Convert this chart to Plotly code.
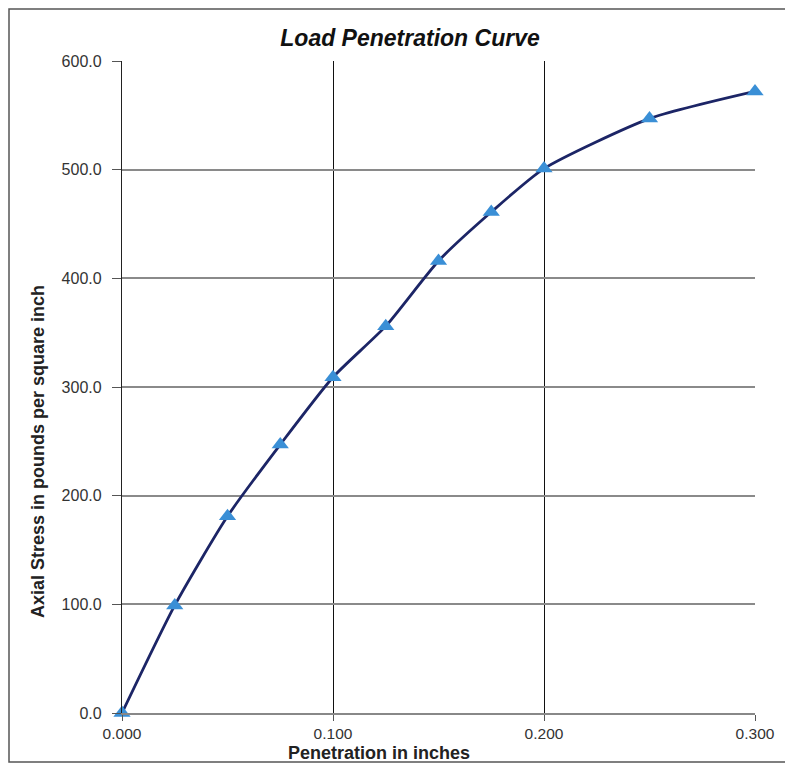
import plotly.graph_objects as go

penetration = [0.000, 0.025, 0.050, 0.075, 0.100, 0.125, 0.150, 0.175, 0.200, 0.250, 0.300]
stress = [0.0, 99.0, 181.0, 247.0, 309.0, 356.0, 416.0, 461.0, 501.0, 547.0, 572.0]

x_ticks = [0.0, 0.1, 0.2, 0.3]
x_tick_labels = ["0.000", "0.100", "0.200", "0.300"]
y_ticks = [0, 100, 200, 300, 400, 500, 600]
y_tick_labels = ["0.0", "100.0", "200.0", "300.0", "400.0", "500.0", "600.0"]

FONT = "Liberation Sans, Arial, sans-serif"

fig = go.Figure()
fig.add_trace(go.Scatter(
    x=penetration, y=stress, mode="lines+markers",
    line=dict(color="#1c2566", width=2.8, shape="spline", smoothing=0.6),
    marker=dict(symbol="triangle-up", size=15, color="#3a8fd6",
                line=dict(width=0)),
    showlegend=False, cliponaxis=False,
))

W, H = 793, 768
OFF = 8  # page body margin offset
L, R, T, B = 122 - OFF, 46, 61 - OFF, 63
pw, ph = W - L - R, H - T - B


def px(xs):
    return (xs - OFF - L) / pw


def py(ys):
    return (H - B - (ys - OFF)) / ph


fig.update_layout(
    width=W, height=H,
    margin=dict(l=L, r=R, t=T, b=B),
    paper_bgcolor="white", plot_bgcolor="white",
    font=dict(family=FONT, color="#222222"),
    title=dict(text="<b><i>Load Penetration Curve</i></b>",
               x=(410 - OFF) / W, xanchor="center",
               y=1 - (38 - OFF) / H, yanchor="middle",
               font=dict(size=23, color="#111111", family=FONT)),
    xaxis=dict(
        range=[0, 0.3], tickvals=x_ticks, ticktext=x_tick_labels,
        showgrid=True, gridcolor="#111111", gridwidth=1.3,
        showline=True, linecolor="#888888", linewidth=1.5,
        ticks="outside", ticklen=6, tickcolor="#555555",
        tickfont=dict(size=15.5, color="#333333"),
        ticklabelstandoff=0,
        zeroline=False,
    ),
    yaxis=dict(
        range=[0, 600], tickvals=y_ticks, ticktext=y_tick_labels,
        showgrid=True, gridcolor="#8a8a8a", gridwidth=1.5,
        showline=True, linecolor="#222222", linewidth=1.3,
        ticks="outside", ticklen=9, tickcolor="#555555",
        tickfont=dict(size=16, color="#333333"),
        ticklabelstandoff=7,
        zeroline=False,
    ),
    annotations=[
        dict(text="<b>Axial Stress in pounds per square inch</b>",
             xref="paper", yref="paper", x=px(38), y=py(452),
             xanchor="center", yanchor="middle", textangle=-90,
             showarrow=False, font=dict(size=18, color="#222222", family=FONT)),
        dict(text="<b>Penetration in inches</b>",
             xref="paper", yref="paper", x=px(379), y=py(753),
             xanchor="center", yanchor="middle",
             showarrow=False, font=dict(size=18, color="#222222", family=FONT)),
    ],
    shapes=[
        dict(type="rect", xref="paper", yref="paper",
             x0=px(OFF + 1), x1=px(789), y0=py(762), y1=py(OFF + 1),
             line=dict(color="#555555", width=1.5), layer="below"),
    ],
)

fig.write_html("out.html")
